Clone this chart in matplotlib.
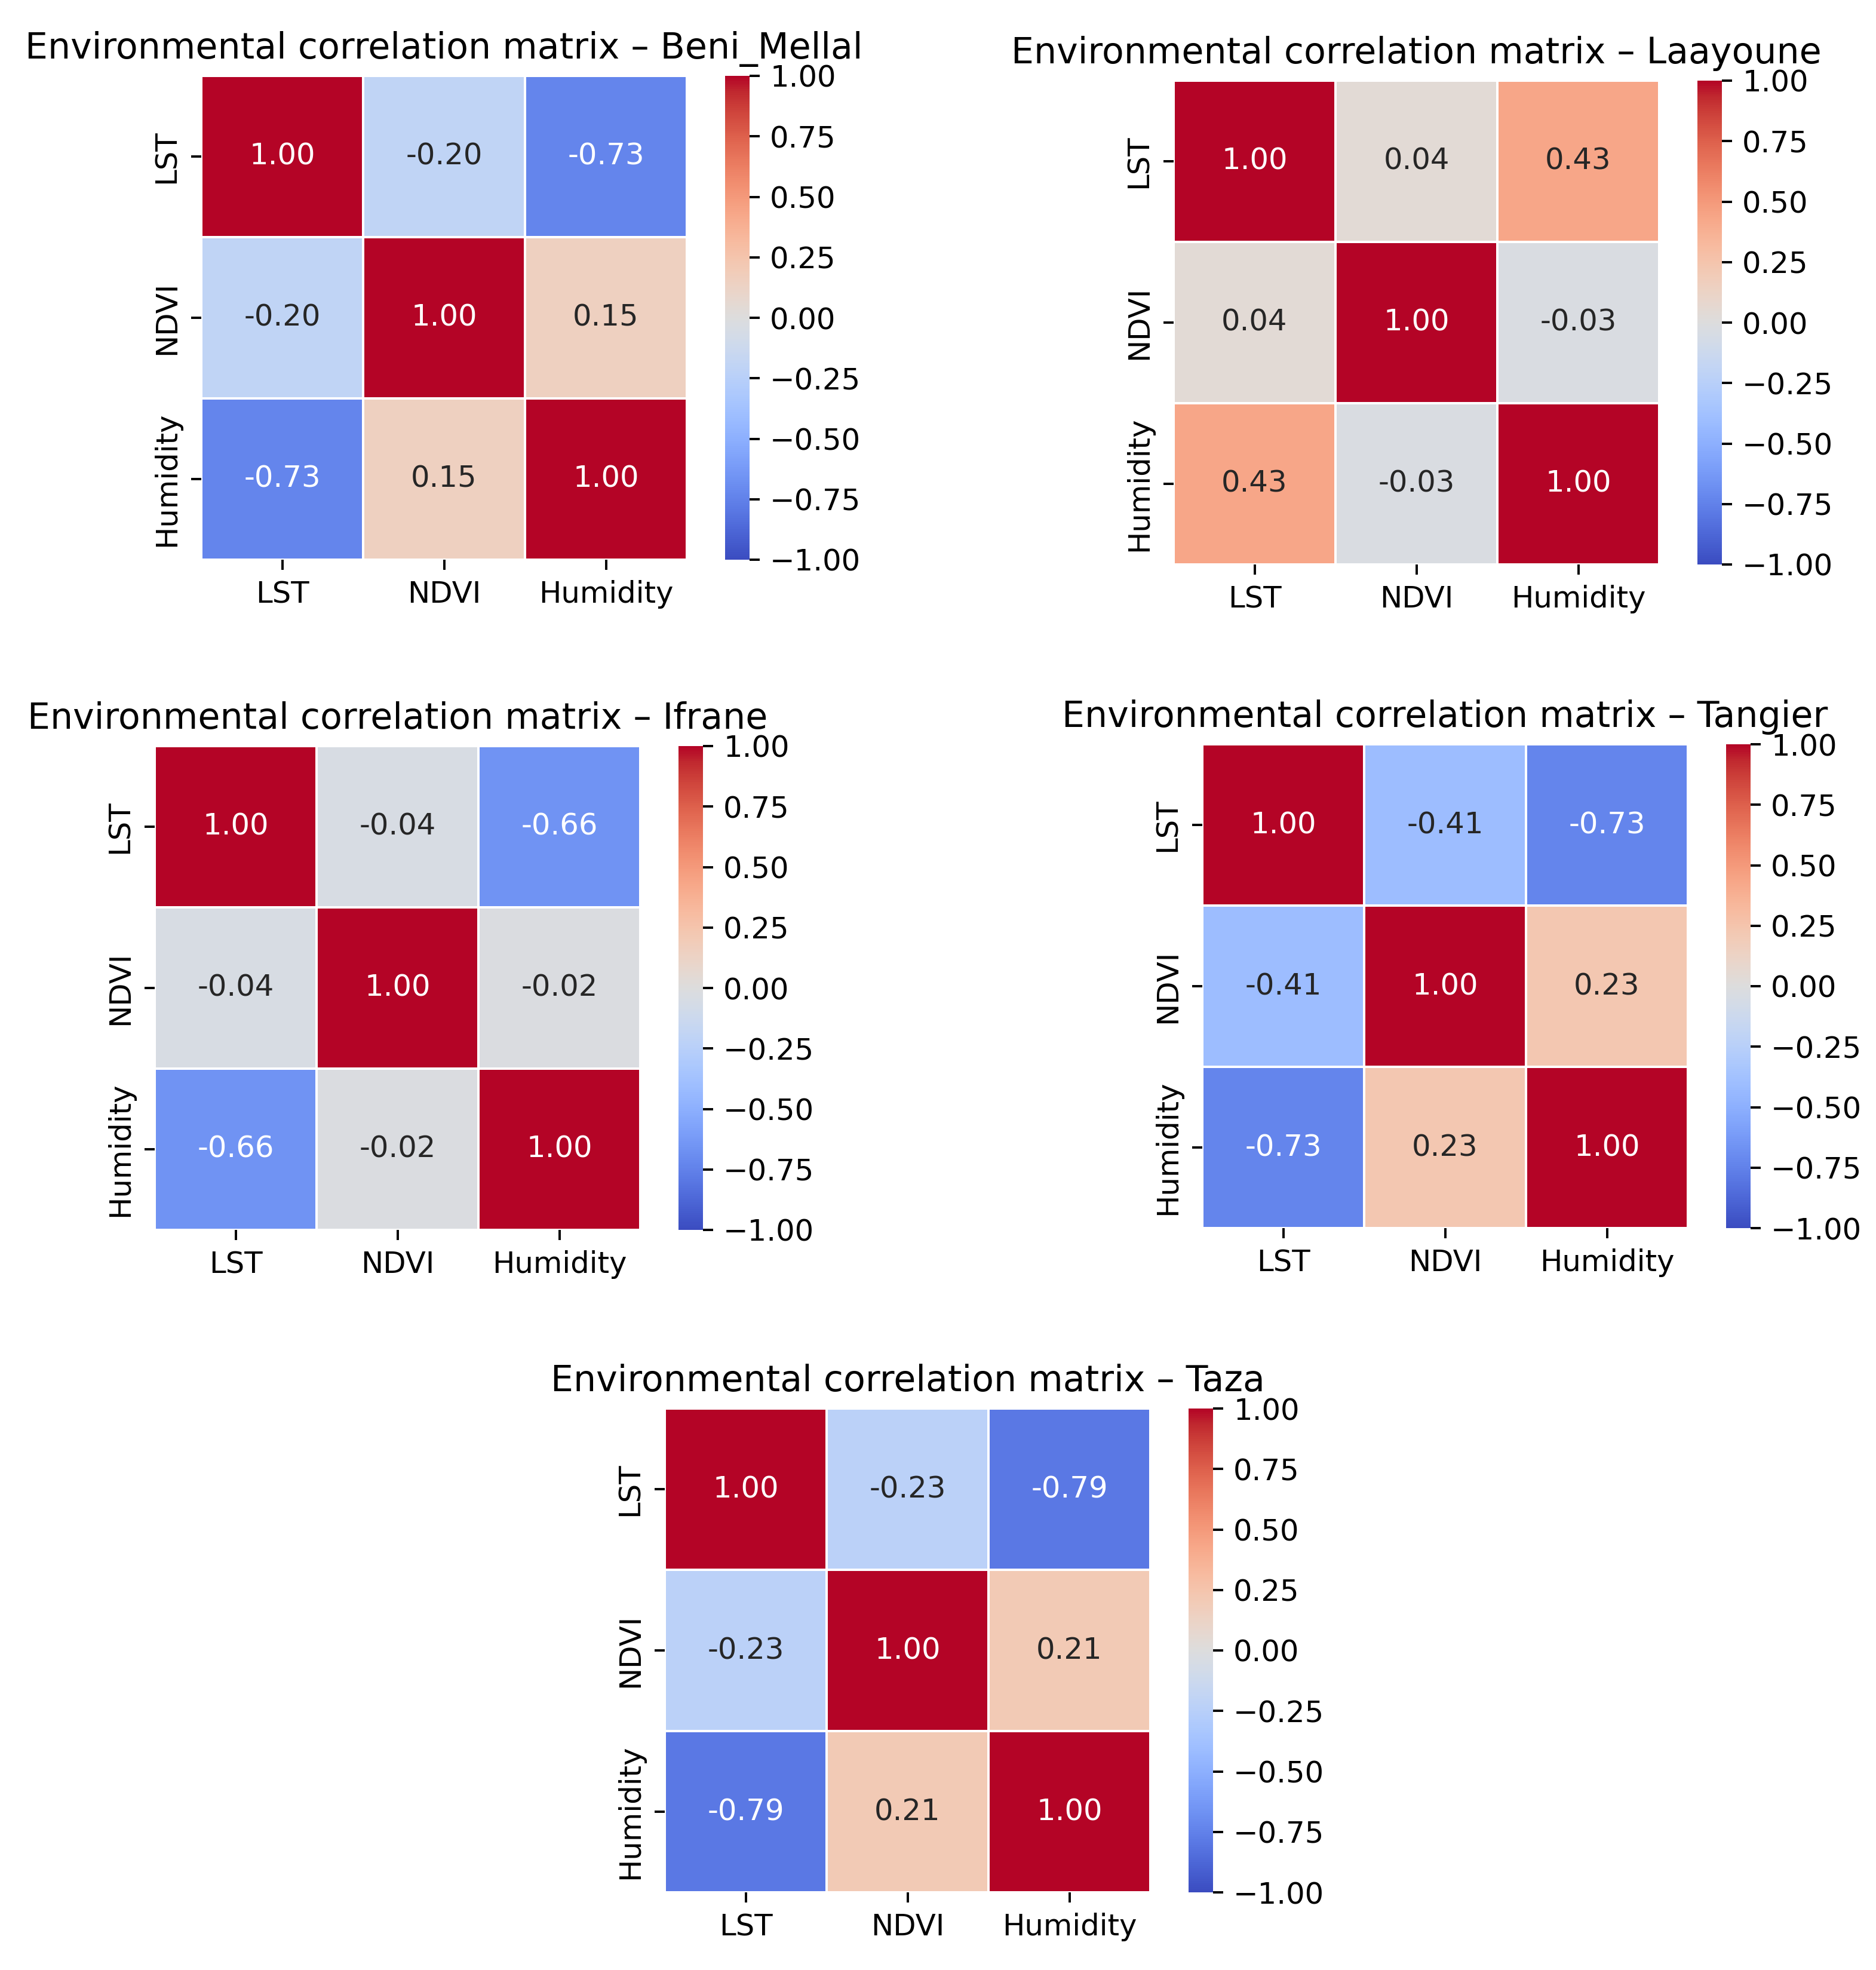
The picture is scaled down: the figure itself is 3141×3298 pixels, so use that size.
import numpy as np
import matplotlib
matplotlib.use("Agg")
import matplotlib.pyplot as plt
import seaborn as sns

# variables and regions
variables = ["LST", "NDVI", "Humidity"]
regions = ["Beni_Mellal", "Laayoune", "Ifrane", "Tangier", "Taza"]

# pairwise correlations: (LST-NDVI, LST-Humidity, NDVI-Humidity)
lst_ndvi = [-0.20, 0.04, -0.04, -0.41, -0.23]
lst_hum = [-0.73, 0.43, -0.66, -0.73, -0.79]
ndvi_hum = [0.15, -0.03, -0.02, 0.23, 0.21]

W, H = 3141, 3298
DPI = 352
fig = plt.figure(figsize=(W / DPI, H / DPI), dpi=DPI)

# heatmap placement in pixels (left, top)
pos = [(337, 127), (1965, 135), (259, 1249), (2013, 1246), (1113, 2358)]
hw, hh = 813, 810
cb_off, cb_w = 877, 41

for i, reg in enumerate(regions):
    corr = np.array([[1.0, lst_ndvi[i], lst_hum[i]],
                     [lst_ndvi[i], 1.0, ndvi_hum[i]],
                     [lst_hum[i], ndvi_hum[i], 1.0]])
    left, top = pos[i]
    ax = fig.add_axes([left / W, 1 - (top + hh) / H, hw / W, hh / H])
    cax = fig.add_axes([(left + cb_off) / W, 1 - (top + hh) / H, cb_w / W, hh / H])
    sns.heatmap(corr, annot=True, fmt=".2f", cmap="coolwarm", vmin=-1, vmax=1,
                linewidths=0.8, linecolor="white",
                annot_kws={"fontsize": 10.2},
                xticklabels=variables, yticklabels=variables,
                ax=ax, cbar_ax=cax)
    ax.tick_params(labelsize=10.2)
    cax.tick_params(labelsize=10.2)
    ax.set_title("Environmental correlation matrix \u2013 " + reg, fontsize=12.3)

fig.savefig("out.png", dpi=DPI)
print("plot done")
